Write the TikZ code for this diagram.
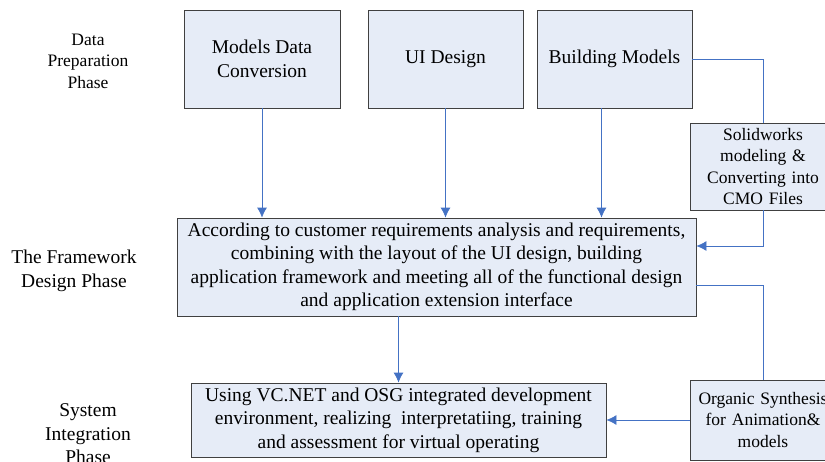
\documentclass[tikz,border=0pt]{standalone}
\usepackage{fontspec}
\setmainfont{Liberation Serif}
\usepackage{xcolor}
\usepackage{tikz}
\usetikzlibrary{arrows.meta}
\definecolor{boxfill}{RGB}{230,236,247}
\definecolor{boxline}{RGB}{64,64,64}
\definecolor{linkblue}{RGB}{68,114,196}

\begin{document}
\begin{tikzpicture}[x=1pt, y=-1pt,
  phase/.style={font=\fontsize{19.5}{23.5}\selectfont, align=center, inner sep=0},
  smallphase/.style={font=\fontsize{17.5}{21.5}\selectfont, align=center, inner sep=0},
  textbox/.style={font=\fontsize{19.5}{23.5}\selectfont, draw=boxline, line width=0.8pt, fill=boxfill, align=center, inner sep=2},
  sidebox/.style={font=\fontsize{17.5}{21.5}\selectfont, draw=boxline, line width=0.8pt, fill=boxfill, align=center, inner sep=2, minimum width=146, text width=140},
  link/.style={draw=linkblue, line width=0.8pt},
  >={Latex[length=10pt,width=10pt]}]
\useasboundingbox (0,0) rectangle (825,461);
\clip (0,0) rectangle (825,461);
%phase labels
\node[smallphase] (p1) at (88,61) {Data\\Preparation\\Phase};
\node[phase] (p2) at (74,271) {The Framework\\Design Phase};
\node[phase] (p3) at (88,434) {System\\Integration\\Phase};
%boxes
\node[textbox, minimum width=156, minimum height=98] (conv) at (262,59) {Models Data\\Conversion};
\node[textbox, minimum width=155, minimum height=98] (ui) at (445.5,59) {UI Design};
\node[textbox, minimum width=155, minimum height=98] (build) at (614.5,59) {Building Models};
\node[sidebox, minimum height=87] (solid) at (763,166.5) {Solidworks\\modeling \&\\Converting into\\CMO Files};
\node[textbox, minimum width=519, minimum height=98] (frame) at (436.5,267) {According to customer requirements analysis and requirements,\\combining with the layout of the UI design, building\\application framework and meeting all of the functional design\\and application extension interface};
\node[textbox, minimum width=415, minimum height=74] (integ) at (398.5,420) {Using VC.NET and OSG integrated development\\environment, realizing\ \ interpretatiing, training\\and assessment for virtual operating};
\node[sidebox, minimum height=80] (organic) at (763,420) {Organic Synthesis\\for Animation\&\\models};
%connectors
\draw [link, ->] (conv.south) -- (conv.south |- frame.north);
\draw [link, ->] (ui.south) -- (ui.south |- frame.north);
\draw [link, ->] ([xshift=-13pt]build.south) -- ([xshift=-13pt]build.south |- frame.north);
\draw [link] (build.east) -| (solid.north);
\draw [link, ->] (solid.south) |- ([yshift=21pt]frame.east);
\draw [link] ([yshift=-18pt]frame.east) -| (organic.north);
\draw [link, ->] (organic.west) -- (integ.east);
\draw [link, ->] (integ.north |- frame.south) -- (integ.north);
\end{tikzpicture}
\end{document}
